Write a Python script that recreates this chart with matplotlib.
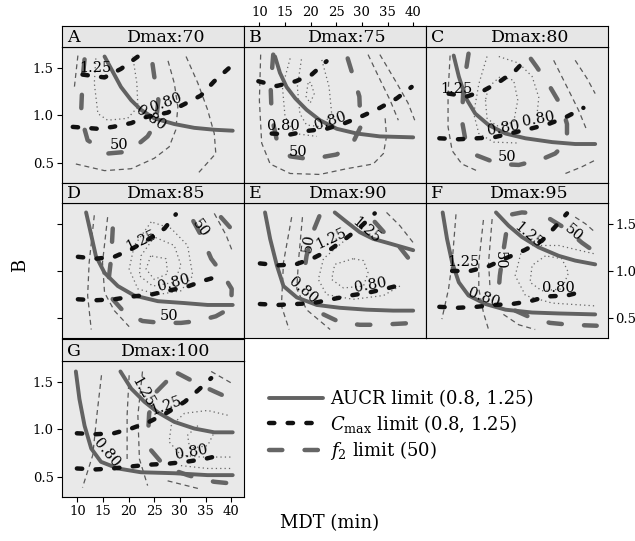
import matplotlib
matplotlib.use("Agg")
import matplotlib.pyplot as plt
from matplotlib.lines import Line2D

# curves: (MDT, B) points per polyline
A_aucr = [[(15.3, 1.62), (16.9, 1.46), (18.5, 1.30), (20.5, 1.16), (22.4, 1.06), (25.0, 0.97), (28.9, 0.91), (32.8, 0.87), (36.7, 0.85), (40.3, 0.84)]]
A_cmax = [[(9.1, 0.88), (14.0, 0.86), (16.9, 0.88), (20.5, 0.92), (23.1, 0.98), (27.6, 1.03), (30.9, 1.12), (34.1, 1.21), (36.7, 1.36), (39.6, 1.50)],
          [(11.0, 1.43), (15.3, 1.40), (18.5, 1.49), (21.8, 1.62)]]
A_f2 = [[(11.4, 1.59), (11.0, 1.38), (10.7, 0.99), (12.0, 0.74), (15.9, 0.60), (20.1, 0.62), (23.7, 0.78), (25.3, 0.92), (25.8, 1.16), (25.0, 1.41), (24.4, 1.64)]]
A_dash = [[(9.7, 0.49), (15.3, 0.42), (20.5, 0.44), (25.0, 0.55), (27.9, 0.67), (29.2, 0.85), (29.6, 1.09), (28.9, 1.34), (27.6, 1.59)],
          [(10.1, 1.63), (9.4, 1.29)],
          [(31.2, 1.62), (33.5, 1.34), (35.4, 1.06), (36.7, 0.81), (37.0, 0.60), (33.5, 0.39)]]
A_dot = [[(13.6, 1.60), (13.3, 1.34), (14.0, 1.02), (15.9, 0.95), (19.8, 0.97), (21.8, 1.09), (21.6, 1.34), (20.8, 1.62)]]
A_text = [("1.25", 13.6, 1.50, 0), ("50", 18.2, 0.69, 0), ("0.80", 27.3, 1.13, 20), ("0.80", 24.4, 0.97, -35)]

B_aucr = [[(13.05, 1.62), (14.0, 1.45), (15.3, 1.30), (17.0, 1.18), (19.2, 1.06), (21.8, 0.95), (25.1, 0.86), (29.0, 0.81), (33.5, 0.78), (40.0, 0.77)]]
B_cmax = [[(12.4, 0.81), (16.0, 0.80), (19.7, 0.84), (23.1, 0.86), (26.7, 0.92), (30.3, 1.00), (33.5, 1.08), (36.8, 1.18), (39.7, 1.30)],
          [(9.8, 1.36), (13.4, 1.31), (17.1, 1.36), (20.2, 1.43), (23.1, 1.57)]]
B_f2 = [[(12.7, 1.64), (12.2, 1.30), (12.4, 0.99), (13.4, 0.74), (16.0, 0.57), (19.9, 0.54), (25.1, 0.59), (28.3, 0.72), (29.75, 0.88), (29.5, 1.20), (28.3, 1.41), (27.0, 1.64)]]
B_dash = [[(10.25, 1.64), (10.0, 1.16), (10.45, 0.71), (12.1, 0.49), (16.0, 0.39), (21.8, 0.38), (27.0, 0.44), (32.2, 0.49), (34.2, 0.60), (34.8, 0.78), (34.5, 0.99)],
          [(31.2, 1.64), (33.5, 1.38), (35.5, 1.16), (37.1, 0.95)],
          [(33.5, 1.64), (36.8, 1.34), (39.0, 1.13), (40.3, 0.95)]]
B_dot = [[(16.0, 1.60), (14.5, 1.30), (15.0, 0.99), (16.9, 0.81), (21.2, 0.78)],
         [(18.2, 1.59), (17.4, 1.30), (17.9, 1.02), (19.2, 0.90), (22.1, 0.88), (24.1, 1.02), (23.6, 1.30), (22.1, 1.60)],
         [(19.5, 1.34), (19.1, 1.20), (19.9, 1.13), (20.7, 1.23), (20.0, 1.35), (19.5, 1.34)]]
B_text = [("0.80", 14.7, 0.89, 0), ("0.80", 23.8, 0.94, 18), ("50", 17.6, 0.62, 0)]

C_aucr = [[(12.4, 1.63), (13.4, 1.41), (14.7, 1.19), (16.6, 1.02), (19.2, 0.90), (22.5, 0.81), (26.4, 0.76), (31.6, 0.72), (36.1, 0.70), (40.0, 0.70)]]
C_cmax = [[(9.6, 0.76), (13.4, 0.75), (16.9, 0.76), (20.2, 0.77), (24.1, 0.82), (27.3, 0.86), (30.9, 0.91), (34.2, 0.98), (37.7, 1.08)],
          [(11.4, 1.23), (15.0, 1.20), (18.2, 1.26), (21.2, 1.35), (24.4, 1.47), (27.0, 1.62)]]
C_f2 = [[(15.3, 1.65), (14.3, 1.30), (14.0, 0.95), (14.7, 0.74), (16.9, 0.58), (21.2, 0.49), (25.1, 0.48), (29.6, 0.54), (32.2, 0.60), (34.5, 0.72), (34.5, 0.91), (33.5, 1.09), (31.2, 1.30), (28.6, 1.51), (27.0, 1.63)]]
C_dash = [[(11.7, 1.63), (11.3, 1.23), (11.3, 0.88), (12.1, 0.63), (14.0, 0.49), (17.3, 0.41)],
          [(34.2, 0.39), (37.4, 0.46), (40.0, 0.53)],
          [(31.9, 1.58), (34.5, 1.30), (36.8, 1.05), (38.4, 0.84)],
          [(36.1, 1.58), (38.4, 1.39), (40.0, 1.23)]]
C_dot = [[(18.9, 1.62), (17.3, 1.33), (16.3, 1.02), (17.3, 0.81), (20.2, 0.72), (25.1, 0.71)],
         [(18.6, 1.16), (18.9, 0.97), (20.8, 0.89), (24.1, 0.93), (24.9, 1.16), (24.1, 1.37), (21.5, 1.41), (19.2, 1.30), (18.6, 1.16)],
         [(21.2, 1.62), (25.1, 1.55), (27.7, 1.41), (29.0, 1.19), (28.6, 0.98)]]
C_text = [("1.25", 13.0, 1.28, 0), ("0.80", 22.1, 0.87, 10), ("0.80", 29.0, 0.96, 10), ("50", 22.8, 0.56, 0)]

D_aucr = [[(11.7, 1.62), (12.7, 1.38), (13.6, 1.16), (15.3, 0.98), (17.9, 0.84), (21.1, 0.74), (25.7, 0.68), (30.9, 0.66), (35.4, 0.64), (40.3, 0.64)]]
D_cmax = [[(10.1, 0.70), (13.6, 0.69), (17.2, 0.70), (20.8, 0.73), (24.4, 0.75), (27.6, 0.79), (31.2, 0.83), (34.8, 0.90), (38.0, 0.95)],
          [(10.1, 1.15), (13.6, 1.13), (17.2, 1.15), (20.5, 1.23), (23.7, 1.33), (27.0, 1.45), (29.2, 1.60)]]
D_f2 = [[(16.9, 1.45), (16.6, 1.14), (16.1, 0.91), (16.9, 0.70), (19.2, 0.56), (22.7, 0.47), (26.3, 0.45), (30.2, 0.45), (33.5, 0.47), (37.0, 0.52), (40.0, 0.61), (40.1, 0.81), (38.3, 0.97), (36.1, 1.13), (34.1, 1.38), (31.8, 1.61)],
        [(38.0, 1.57), (40.3, 1.43)]]
D_dash = [[(13.3, 1.59), (12.3, 1.09), (12.0, 0.74), (12.7, 0.38)],
          [(15.9, 1.57), (14.9, 1.09), (15.3, 0.77), (17.2, 0.58), (20.1, 0.41)],
          [(36.7, 1.61), (39.0, 1.38), (40.3, 1.20)]]
D_dot = [[(24.4, 1.52), (21.1, 1.27), (20.1, 1.02), (21.8, 0.81), (25.7, 0.75), (30.2, 0.79), (32.5, 0.95), (31.5, 1.27), (28.3, 1.45), (24.4, 1.52)],
         [(25.0, 1.36), (22.4, 1.16), (22.1, 0.95), (24.7, 0.84), (28.9, 0.88), (30.2, 1.06), (28.9, 1.27), (25.0, 1.36)],
         [(24.3, 1.16), (23.4, 1.02), (25.0, 0.91), (27.6, 0.97), (27.3, 1.13), (24.3, 1.16)]]
D_text = [("1.25", 22.4, 1.32, 25), ("0.80", 28.9, 0.87, 15), ("50", 34.0, 1.45, -55), ("50", 27.9, 0.52, 0)]

E_aucr = [[(11.1, 1.62), (12.1, 1.34), (13.4, 1.06), (14.7, 0.84), (17.3, 0.72), (21.2, 0.64), (25.7, 0.61), (30.9, 0.59), (36.1, 0.58), (40.0, 0.58)],
          [(24.7, 1.62), (27.0, 1.52), (29.6, 1.41), (32.2, 1.34), (35.5, 1.29), (40.0, 1.22)]]
E_cmax = [[(10.1, 0.65), (13.7, 0.64), (17.1, 0.65), (20.5, 0.66), (24.1, 0.70), (27.7, 0.74), (31.2, 0.77), (34.5, 0.81), (38.1, 0.86)],
          [(10.1, 1.08), (13.7, 1.06), (17.1, 1.07), (20.65, 1.14), (23.9, 1.23), (27.0, 1.35), (29.6, 1.46), (32.5, 1.61)]]
E_f2 = [[(21.7, 1.58), (20.2, 1.38), (19.2, 1.16), (18.8, 1.01)],
        [(22.5, 0.54), (26.0, 0.45), (29.6, 0.43), (33.2, 0.43), (36.8, 0.44), (40.3, 0.45)],
        [(32.5, 1.52), (34.8, 1.38), (37.4, 1.25), (39.0, 1.14), (40.3, 1.04)]]
E_dash = [[(16.3, 1.57), (14.7, 1.09), (14.3, 0.63), (15.8, 0.38)],
          [(18.4, 1.57), (17.6, 1.09), (17.3, 0.81), (19.2, 0.59), (23.8, 0.38)],
          [(34.8, 1.62), (37.4, 1.48), (40.0, 1.30)]]
E_dot = [[(27.0, 1.34), (22.5, 1.13), (21.5, 0.91), (23.1, 0.75), (28.3, 0.70), (34.2, 0.74), (37.4, 0.84)],
         [(28.3, 1.13), (24.7, 1.07), (24.1, 0.91), (26.4, 0.82), (30.3, 0.84), (31.2, 0.98), (30.3, 1.11), (28.3, 1.13)]]
E_text = [("50", 19.5, 1.30, 80), ("1.25", 24.1, 1.34, 25), ("1.25", 30.9, 1.43, -40), ("0.80", 18.6, 0.79, -40), ("0.80", 31.6, 0.85, 10)]

F_aucr = [[(10.25, 1.62), (11.1, 1.34), (12.1, 1.09), (13.4, 0.88), (15.3, 0.74), (18.6, 0.65), (22.5, 0.59), (27.7, 0.56), (32.9, 0.55), (40.0, 0.54)],
          [(20.65, 1.62), (23.1, 1.48), (25.7, 1.36), (29.0, 1.25), (32.9, 1.16), (36.1, 1.11), (40.0, 1.07)]]
F_cmax = [[(9.6, 0.62), (13.2, 0.61), (16.75, 0.62), (20.4, 0.64), (23.8, 0.65), (27.3, 0.68), (30.6, 0.73), (34.5, 0.74), (38.1, 0.79)],
          [(12.1, 1.00), (15.6, 1.00), (19.2, 1.05), (22.8, 1.14), (26.2, 1.22), (29.6, 1.32), (31.9, 1.45), (34.5, 1.61)]]
F_f2 = [[(22.6, 1.39), (21.95, 1.16), (21.4, 0.95), (21.2, 0.81)],
        [(23.8, 1.60), (25.7, 1.62), (28.6, 1.61)],
        [(31.2, 1.55), (34.2, 1.45), (37.4, 1.30), (40.0, 1.20)],
        [(24.4, 0.58), (27.7, 0.50), (31.2, 0.45), (35.1, 0.43), (40.3, 0.42)]]
F_dash = [[(12.85, 1.60), (12.1, 1.09), (11.4, 0.81), (10.1, 0.49)],
          [(18.2, 1.54), (17.3, 1.09), (17.3, 0.81), (18.2, 0.56), (19.2, 0.38)],
          [(19.9, 1.55), (19.2, 1.09), (19.5, 0.81)],
          [(22.1, 0.54), (25.1, 0.43), (28.3, 0.38)],
          [(36.1, 1.57), (38.1, 1.50), (40.0, 1.41)]]
F_dot = [[(30.3, 1.16), (27.7, 1.06), (27.3, 0.88), (29.6, 0.79), (33.5, 0.81), (34.8, 0.98), (33.5, 1.13), (30.3, 1.16)],
         [(27.7, 1.27), (32.9, 1.27), (36.8, 1.22), (40.0, 1.18)],
         [(25.7, 1.23), (24.4, 0.95), (26.4, 0.74), (31.6, 0.66), (40.0, 0.63)]]
F_text = [("1.25", 14.3, 1.09, 0), ("1.25", 27.0, 1.38, -40), ("50", 21.4, 1.11, -90), ("50", 35.7, 1.40, -40), ("0.80", 18.2, 0.72, -20), ("0.80", 32.9, 0.82, 0)]

G_aucr = [[(9.7, 1.61), (10.4, 1.32), (11.4, 1.04), (12.7, 0.80), (14.6, 0.66), (17.9, 0.59), (22.4, 0.55), (28.9, 0.54), (35.4, 0.52), (40.3, 0.52)],
          [(18.4, 1.61), (20.5, 1.43), (23.1, 1.29), (25.7, 1.18), (28.9, 1.08), (32.8, 1.01), (36.7, 0.97), (40.3, 0.97)]]
G_cmax = [[(9.9, 0.59), (13.6, 0.58), (16.9, 0.59), (20.3, 0.61), (24.0, 0.63), (27.6, 0.64), (31.2, 0.66), (34.8, 0.69), (38.0, 0.73)],
          [(9.9, 0.96), (13.6, 0.95), (17.1, 0.96), (20.5, 1.01), (24.0, 1.08), (27.6, 1.18), (30.9, 1.29), (33.5, 1.41), (36.1, 1.54)]]
G_f2 = [[(27.3, 1.50), (25.3, 1.39), (24.0, 1.17), (23.8, 0.96)],
        [(24.4, 0.78), (26.3, 0.66), (28.9, 0.57), (31.5, 0.52), (34.1, 0.48), (36.7, 0.45), (40.5, 0.43)],
        [(29.6, 1.59), (33.5, 1.48), (36.7, 1.40), (40.0, 1.32)]]
G_dash = [[(14.7, 1.57), (13.8, 1.15), (13.0, 0.73), (11.0, 0.39)],
          [(20.1, 1.57), (19.7, 1.15), (19.7, 0.66)],
          [(22.7, 1.61), (21.8, 1.15), (22.1, 0.69), (23.7, 0.41)],
          [(27.6, 0.46), (33.5, 0.38)],
          [(36.1, 1.61), (40.3, 1.48)]]
G_dot = [[(39.3, 1.15), (35.4, 1.20), (30.9, 1.17), (28.3, 1.04), (27.9, 0.87), (30.2, 0.73), (34.1, 0.71), (40.3, 0.71)],
         [(33.5, 1.04), (31.5, 0.94), (31.9, 0.80), (35.4, 0.83), (36.7, 0.97)],
         [(30.2, 0.62), (35.4, 0.59), (40.3, 0.59)]]
G_text = [("1.25", 22.7, 1.39, -60), ("1.25", 27.3, 1.25, 20), ("0.80", 15.6, 0.75, -50), ("0.80", 32.2, 0.76, 10)]

letters = ["A", "B", "C", "D", "E", "F", "G"]
dmax = [70, 75, 80, 85, 90, 95, 100]
x_ticks = [10, 15, 20, 25, 30, 35, 40]
y_ticks = [0.5, 1.0, 1.5]
y_tick_labels = ["0.5", "1.0", "1.5"]
legend_labels = ["AUCR limit (0.8, 1.25)", r"$C_{\mathrm{max}}$ limit (0.8, 1.25)", r"$f_2$ limit (50)"]

panels = [
    (A_aucr, A_cmax, A_f2, A_dash, A_dot, A_text),
    (B_aucr, B_cmax, B_f2, B_dash, B_dot, B_text),
    (C_aucr, C_cmax, C_f2, C_dash, C_dot, C_text),
    (D_aucr, D_cmax, D_f2, D_dash, D_dot, D_text),
    (E_aucr, E_cmax, E_f2, E_dash, E_dot, E_text),
    (F_aucr, F_cmax, F_f2, F_dash, F_dot, F_text),
    (G_aucr, G_cmax, G_f2, G_dash, G_dot, G_text),
]

plt.rcParams['font.family'] = 'DejaVu Serif'
plt.rcParams['mathtext.fontset'] = 'dejavuserif'

AUCR = dict(color='#626262', lw=2.8, solid_capstyle='round')
CMAX = dict(color='#111111', lw=3.2, dashes=(1.2, 3.0), dash_capstyle='round')
F2 = dict(color='#666666', lw=3.2, dashes=(3.0, 5.0), dash_capstyle='round')
THIN = dict(color='#5a5a5a', lw=0.9, dashes=(4, 3))
DOT = dict(color='#666666', lw=0.9, dashes=(1, 2.5))

W, H = 635, 541
fig = plt.figure(figsize=(W / 100, H / 100), dpi=100)


def box(x0, y0, x1, y1):
    return [x0 / W, 1 - y1 / H, (x1 - x0) / W, (y1 - y0) / H]


col_x = [62, 244, 426]
pw = 182
rows = [(26, 47, 183), (183, 203, 338), (339, 361, 497)]
grid = [(0, 0), (0, 1), (0, 2), (1, 0), (1, 1), (1, 2), (2, 0)]
xlim = (7, 42.5)
ylim = (0.29, 1.72)


def draw(ax, lines, style):
    for ln in lines:
        xs, ys = zip(*ln)
        ax.plot(xs, ys, **style)


for i, (aucr, cmax, f2, dash, dot, texts) in enumerate(panels):
    r, c = grid[i]
    st, sb, pb = rows[r]
    x0 = col_x[c]

    ax = fig.add_axes(box(x0, sb, x0 + pw, pb))
    ax.set_facecolor('#e9e9e9')
    draw(ax, dash, THIN)
    draw(ax, dot, DOT)
    draw(ax, f2, F2)
    draw(ax, aucr, AUCR)
    draw(ax, cmax, CMAX)
    for s, tx, ty, rot in texts:
        ax.text(tx, ty, s, rotation=rot, ha='center', va='center', fontsize=10.5,
                rotation_mode='anchor')
    ax.set_xlim(*xlim)
    ax.set_ylim(*ylim)
    ax.set_xticks(x_ticks)
    ax.set_yticks(y_ticks)
    ax.set_yticklabels(y_tick_labels)
    ax.tick_params(direction='out', length=3.5, width=0.8, labelsize=9.5, pad=2.5,
                   left=False, bottom=False, labelleft=False, labelbottom=False)
    if letters[i] in ("A", "G"):
        ax.tick_params(left=True, labelleft=True)
    if letters[i] == "D":
        ax.tick_params(left=True)
    if letters[i] == "F":
        ax.tick_params(right=True, labelright=True, pad=1.5)
    if letters[i] == "G":
        ax.tick_params(bottom=True, labelbottom=True)
    for sp in ax.spines.values():
        sp.set_linewidth(0.8)

    sx = fig.add_axes(box(x0, st, x0 + pw, sb))
    sx.set_facecolor('#e6e6e6')
    sx.set_xlim(*xlim)
    sx.set_yticks([])
    if letters[i] == "B":
        sx.xaxis.tick_top()
        sx.set_xticks(x_ticks)
        sx.tick_params(direction='out', length=3, width=0.8, labelsize=9.5, pad=2)
    else:
        sx.set_xticks([])
    for sp in sx.spines.values():
        sp.set_linewidth(0.8)
    sx.text(0.03, 0.45, letters[i], transform=sx.transAxes, ha='left', va='center', fontsize=12.5)
    sx.text(0.57, 0.45, f"Dmax:{dmax[i]}", transform=sx.transAxes, ha='center', va='center', fontsize=12.5)

fig.text(20 / W, 1 - 265 / H, "B", rotation=90, ha='center', va='center', fontsize=13)
fig.text(330 / W, 1 - 523 / H, "MDT (min)", ha='center', va='center', fontsize=13)

handles = [Line2D([], [], **AUCR), Line2D([], [], **CMAX), Line2D([], [], **F2)]
fig.legend(handles, legend_labels, loc='upper left', bbox_to_anchor=(269 / W, 1 - 390 / H),
           frameon=False, fontsize=13, handlelength=3.0, handletextpad=0.4,
           labelspacing=0.25, borderaxespad=0, borderpad=0)

fig.savefig("out.png", dpi=100)
